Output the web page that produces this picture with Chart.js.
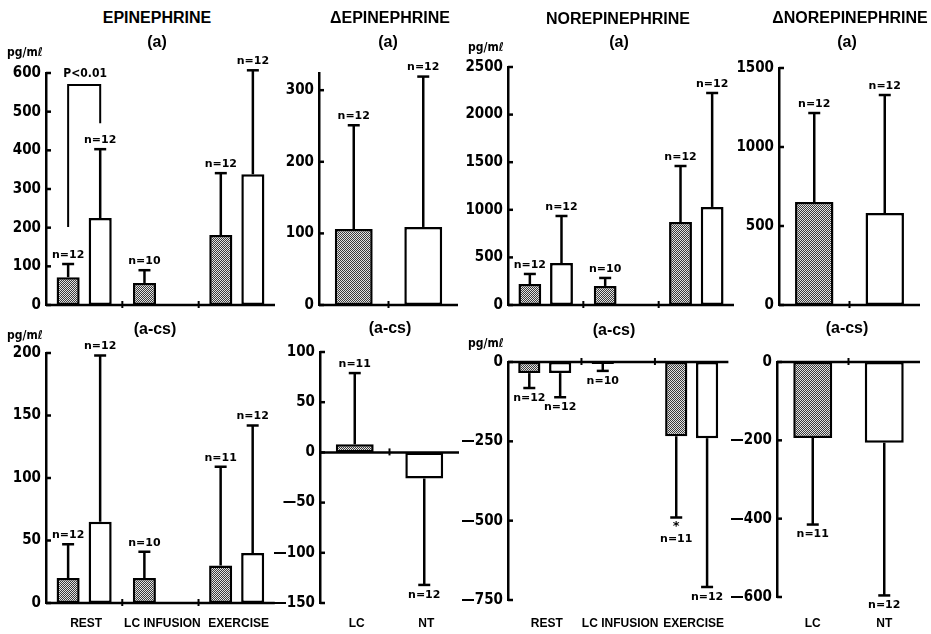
<!DOCTYPE html>
<html>
<head>
<meta charset="utf-8">
<script src="https://cdn.jsdelivr.net/npm/chart.js@4.4.1/dist/chart.umd.min.js"></script>
<style>
  body { margin:0; background:#fff; width:931px; height:634px; position:relative; overflow:hidden; }
  canvas { position:absolute; }
  .t { position:absolute; font-family:'Liberation Sans', Arial, sans-serif; font-weight:bold; font-size:16px; color:#000; white-space:nowrap; transform:translate(-50%,-50%); }
  .u { position:absolute; font-family:'DejaVu Sans Condensed','DejaVu Sans',sans-serif; font-weight:bold; font-size:12px; color:#000; white-space:nowrap; transform:translateY(-50%); }
</style>
</head>
<body>
<script>
// ---------- categories ----------
const GROUPS = ['REST', 'LC INFUSION', 'EXERCISE'];
const PAIR = ['LC', 'NT'];

// ---------- EPINEPHRINE (a) ----------
const epiA_LC    = [72, 57, 181];
const epiA_LC_sd = [34, 33, 160];
const epiA_LC_n  = ['n=12', 'n=10', 'n=12'];
const epiA_NT    = [225, null, 338];
const epiA_NT_sd = [178, null, 269];
const epiA_NT_n  = ['n=12', null, 'n=12'];
const epiA_ticks = [0, 100, 200, 300, 400, 500, 600];

// ---------- ΔEPINEPHRINE (a) ----------
const dEpiA    = [106, 109];
const dEpiA_sd = [145, 210];
const dEpiA_n  = ['n=12', 'n=12'];
const dEpiA_ticks = [0, 100, 200, 300];

// ---------- NOREPINEPHRINE (a) ----------
const norA_LC    = [220, 200, 872];
const norA_LC_sd = [106, 84, 588];
const norA_LC_n  = ['n=12', 'n=10', 'n=12'];
const norA_NT    = [441, null, 1030];
const norA_NT_sd = [494, null, 1197];
const norA_NT_n  = ['n=12', null, 'n=12'];
const norA_ticks = [0, 500, 1000, 1500, 2000, 2500];

// ---------- ΔNOREPINEPHRINE (a) ----------
const dNorA    = [652, 582];
const dNorA_sd = [563, 747];
const dNorA_n  = ['n=12', 'n=12'];
const dNorA_ticks = [0, 500, 1000, 1500];

// ---------- EPINEPHRINE (a-cs) ----------
const epiC_LC    = [20, 20, 30];
const epiC_LC_sd = [27, 21, 79];
const epiC_LC_n  = ['n=12', 'n=10', 'n=11'];
const epiC_NT    = [65, null, 40];
const epiC_NT_sd = [133, null, 102];
const epiC_NT_n  = ['n=12', null, 'n=12'];
const epiC_ticks = [0, 50, 100, 150, 200];

// ---------- ΔEPINEPHRINE (a-cs) ----------
const dEpiC    = [8, -26];
const dEpiC_sd = [71, 106];
const dEpiC_n  = ['n=11', 'n=12'];
const dEpiC_ticks = [-150, -100, -50, 0, 50, 100];

// ---------- NOREPINEPHRINE (a-cs) ----------
const norC_LC    = [-35, -6, -234];
const norC_LC_sd = [47, 22, 256];
const norC_LC_n  = ['n=12', 'n=10', 'n=11'];
const norC_LC_star = [false, false, true];
const norC_NT    = [-35, null, -240];
const norC_NT_sd = [76, null, 469];
const norC_NT_n  = ['n=12', null, 'n=12'];
const norC_ticks = [-750, -500, -250, 0];

// ---------- ΔNOREPINEPHRINE (a-cs) ----------
const dNorC    = [-194, -206];
const dNorC_sd = [221, 390];
const dNorC_n  = ['n=11', 'n=12'];
const dNorC_ticks = [-600, -400, -200, 0];

// ---------- styling ----------
const TICK_FONT = { family: "'DejaVu Sans Condensed','DejaVu Sans',sans-serif", size: 15, weight: 'bold' };
const XLAB_FONT = { family: "'Liberation Sans',Arial,sans-serif", size: 12, weight: 'bold' };
const N_FONT = "bold 11px 'DejaVu Sans',sans-serif";
const PAD_TOP = 30;

function makeHatch() {
  const p = document.createElement('canvas');
  p.width = 2; p.height = 2;
  const g = p.getContext('2d');
  g.fillStyle = '#e2e2e2'; g.fillRect(0, 0, 2, 2);
  g.fillStyle = '#3a3a3a'; g.fillRect(0, 0, 1, 1); g.fillRect(1, 1, 1, 1);
  return g.createPattern(p, 'repeat');
}
const HATCH = makeHatch();

function fmt(v) { return v < 0 ? '\u2014' + Math.abs(v) : String(v); }

const errPlugin = {
  id: 'errbars',
  afterDatasetsDraw(chart) {
    const ctx = chart.ctx, y = chart.scales.y, x = chart.scales.x, a = chart.chartArea;
    ctx.save();
    ctx.strokeStyle = '#000'; ctx.fillStyle = '#000'; ctx.lineWidth = 2.5; ctx.lineCap = 'butt';
    const y0 = y.getPixelForValue(0);
    // zero line
    ctx.beginPath(); ctx.moveTo(a.left, y0); ctx.lineTo(a.right, y0); ctx.stroke();
    // inward tick stubs on the y axis
    y.ticks.forEach(t => {
      const py = y.getPixelForValue(t.value);
      ctx.beginPath(); ctx.moveTo(a.left, py); ctx.lineTo(a.left + 5, py); ctx.stroke();
    });
    // small marks at category boundaries
    ctx.lineWidth = 2;
    for (let i = 1; i < chart.data.labels.length; i++) {
      const px = (x.getPixelForValue(i - 1) + x.getPixelForValue(i)) / 2;
      ctx.beginPath(); ctx.moveTo(px, y0 - 4); ctx.lineTo(px, y0 + 3); ctx.stroke();
    }
    // error bars + n labels
    ctx.lineWidth = 2.5;
    ctx.font = N_FONT; ctx.textAlign = 'center'; ctx.textBaseline = 'middle';
    chart.data.datasets.forEach((ds, di) => {
      const meta = chart.getDatasetMeta(di);
      meta.data.forEach((el, i) => {
        const v = ds.data[i];
        if (v == null) return;
        const end = v >= 0 ? v + ds.sd[i] : v - ds.sd[i];
        const py = y.getPixelForValue(end);
        ctx.beginPath(); ctx.moveTo(el.x, el.y); ctx.lineTo(el.x, py); ctx.stroke();
        ctx.beginPath(); ctx.moveTo(el.x - 6, py); ctx.lineTo(el.x + 6, py); ctx.stroke();
        const star = ds.star && ds.star[i];
        if (star) {
          ctx.font = "bold 13px 'DejaVu Sans',sans-serif";
          ctx.fillText('*', el.x, py + 9);
          ctx.font = N_FONT;
        }
        const lab = ds.nlab[i];
        if (lab) {
          const ly = v >= 0 ? py - 9 : py + (star ? 22 : 10);
          ctx.fillText(lab, el.x, ly);
        }
      });
    });
    // significance bracket
    const br = chart.options.plugins.errbars.bracket;
    if (br) {
      const xa = chart.getDatasetMeta(0).data[0].x, xb = chart.getDatasetMeta(1).data[0].x;
      ctx.lineWidth = 2;
      ctx.beginPath();
      ctx.moveTo(xa, y.getPixelForValue(br.left));
      ctx.lineTo(xa, y.getPixelForValue(br.top));
      ctx.lineTo(xb, y.getPixelForValue(br.top));
      ctx.lineTo(xb, y.getPixelForValue(br.right));
      ctx.stroke();
      ctx.font = "bold 12px 'DejaVu Sans Condensed','DejaVu Sans',sans-serif";
      ctx.fillText(br.text, (xa + xb) / 2 + 1, y.getPixelForValue(br.textAt));
    }
    ctx.restore();
  }
};

function panel(area, cfg) {
  const showX = !!cfg.showX;
  const left = area.l - 46, top = area.t - PAD_TOP;
  const w = area.r - left + 6;
  const xh = showX ? 32 : 14;
  const h = area.b - top + xh;
  const c = document.createElement('canvas');
  c.width = w; c.height = h;
  c.style.left = left + 'px'; c.style.top = top + 'px';
  document.body.appendChild(c);
  new Chart(c, {
    type: 'bar',
    data: { labels: cfg.labels, datasets: cfg.datasets },
    options: {
      responsive: false, devicePixelRatio: 1, animation: false,
      layout: { padding: { left: 0, top: PAD_TOP, right: 6, bottom: 0 } },
      plugins: { legend: { display: false }, tooltip: { enabled: false }, errbars: { bracket: cfg.bracket || null } },
      scales: {
        x: {
          offset: true,
          grid: { display: false, drawTicks: false },
          border: { display: false },
          ticks: { display: showX, maxRotation: 0, minRotation: 0, autoSkip: false, labelOffset: cfg.labelOffset || 0, color: '#000', font: XLAB_FONT, padding: 616 - area.b },
          afterFit: s => { s.height = xh; }
        },
        y: {
          min: cfg.min, max: cfg.max,
          grid: { display: false, drawTicks: false },
          border: { display: true, width: 2.5, color: '#000' },
          ticks: { color: '#000', padding: 5, font: TICK_FONT, callback: v => fmt(v) },
          afterBuildTicks: s => { s.ticks = cfg.ticks.map(v => ({ value: v })); },
          afterFit: s => { s.width = 46; }
        }
      }
    },
    plugins: [errPlugin]
  });
}

function pairSets(lc, lcSd, lcN, nt, ntSd, ntN, star) {
  const common = { borderColor: '#000', borderWidth: 2.5, borderSkipped: false, categoryPercentage: 0.84, barPercentage: 0.72 };
  return [
    Object.assign({ data: lc, sd: lcSd, nlab: lcN, star: star || null, backgroundColor: HATCH }, common),
    Object.assign({ data: nt, sd: ntSd, nlab: ntN, backgroundColor: '#fff' }, common)
  ];
}
function deltaSet(v, sd, n) {
  return [{ data: v, sd: sd, nlab: n, backgroundColor: [HATCH, '#fff'], borderColor: '#000', borderWidth: 2.5, borderSkipped: false, categoryPercentage: 1, barPercentage: 0.545 }];
}

// top row
panel({ l: 46, r: 275, t: 73, b: 305 }, {
  labels: GROUPS, min: 0, max: 600, ticks: epiA_ticks,
  datasets: pairSets(epiA_LC, epiA_LC_sd, epiA_LC_n, epiA_NT, epiA_NT_sd, epiA_NT_n),
  bracket: { left: 202, top: 569, right: 470, textAt: 597, text: 'P<0.01' }
});
panel({ l: 319, r: 458, t: 73, b: 305 }, {
  labels: PAIR, min: 0, max: 324, ticks: dEpiA_ticks,
  datasets: deltaSet(dEpiA, dEpiA_sd, dEpiA_n)
});
panel({ l: 508, r: 734, t: 67, b: 305 }, {
  labels: GROUPS, min: 0, max: 2500, ticks: norA_ticks,
  datasets: pairSets(norA_LC, norA_LC_sd, norA_LC_n, norA_NT, norA_NT_sd, norA_NT_n)
});
panel({ l: 779, r: 920, t: 68, b: 305 }, {
  labels: PAIR, min: 0, max: 1500, ticks: dNorA_ticks,
  datasets: deltaSet(dNorA, dNorA_sd, dNorA_n)
});
// bottom row
panel({ l: 46, r: 275, t: 353, b: 603 }, {
  labels: GROUPS, min: 0, max: 200, ticks: epiC_ticks, showX: true, labelOffset: 2,
  datasets: pairSets(epiC_LC, epiC_LC_sd, epiC_LC_n, epiC_NT, epiC_NT_sd, epiC_NT_n)
});
panel({ l: 320, r: 459, t: 352, b: 603 }, {
  labels: PAIR, min: -150, max: 100, ticks: dEpiC_ticks, showX: true, labelOffset: 2,
  datasets: deltaSet(dEpiC, dEpiC_sd, dEpiC_n)
});
panel({ l: 508, r: 733, t: 362, b: 600 }, {
  labels: GROUPS, min: -750, max: 0, ticks: norC_ticks, showX: true, labelOffset: 2,
  datasets: pairSets(norC_LC, norC_LC_sd, norC_LC_n, norC_NT, norC_NT_sd, norC_NT_n, norC_LC_star)
});
panel({ l: 777, r: 920, t: 362, b: 597 }, {
  labels: PAIR, min: -600, max: 0, ticks: dNorC_ticks, showX: true,
  datasets: deltaSet(dNorC, dNorC_sd, dNorC_n)
});

// titles and unit labels
const TITLES = [
  ['EPINEPHRINE', 157, 18], ['(a)', 157, 42],
  ['\u0394EPINEPHRINE', 390, 18], ['(a)', 388, 42],
  ['NOREPINEPHRINE', 618, 19], ['(a)', 619, 42],
  ['\u0394NOREPINEPHRINE', 850, 18], ['(a)', 847, 42],
  ['(a-cs)', 155, 329], ['(a-cs)', 390, 328], ['(a-cs)', 614, 330], ['(a-cs)', 847, 328]
];
TITLES.forEach(([s, x, y]) => {
  const d = document.createElement('div'); d.className = 't'; d.textContent = s;
  d.style.left = x + 'px'; d.style.top = y + 'px'; document.body.appendChild(d);
});
const UNITS = [[7, 52], [468, 47], [7, 335], [468, 343]];
UNITS.forEach(([x, y]) => {
  const d = document.createElement('div'); d.className = 'u'; d.textContent = 'pg/m\u2113';
  d.style.left = x + 'px'; d.style.top = y + 'px'; document.body.appendChild(d);
});
</script>
</body>
</html>
